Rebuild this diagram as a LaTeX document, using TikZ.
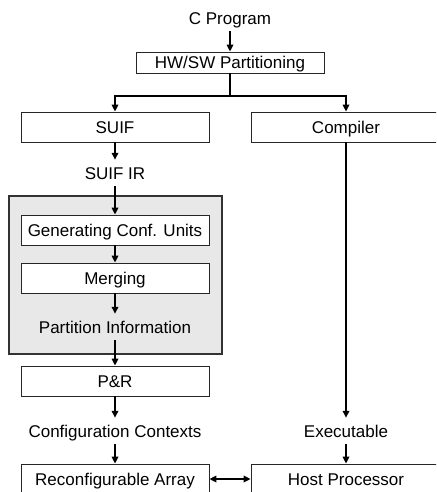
\documentclass[tikz,border=0pt]{standalone}
\usepackage{fontspec}
\setmainfont{Liberation Sans}
\usetikzlibrary{arrows.meta}
\tikzset{
  box/.style={draw=black!85, line width=0.8pt, fill=white, minimum width=188pt, minimum height=30pt, inner sep=0pt, text height=12.2pt, text depth=0pt, font=\fontsize{17}{20}\selectfont},
  lbl/.style={inner sep=0pt, minimum height=26pt, text height=12.2pt, text depth=0pt, font=\fontsize{17}{20}\selectfont},
  grp/.style={draw=black!80, line width=1.4pt, fill=black!9, minimum width=213pt, minimum height=158pt, inner sep=0pt},
  arr/.style={line width=1.6pt, -{Triangle[length=7pt,width=6.5pt]}},
  darr/.style={line width=1.6pt, {Triangle[length=7pt,width=6.5pt]}-{Triangle[length=7pt,width=6.5pt]}},
  ln/.style={line width=1.6pt}
}
\begin{document}
\begin{tikzpicture}[x=1pt,y=-1pt]
\useasboundingbox (0,0) rectangle (436,492);
\clip (0,0) rectangle (436,492);
\fill[white] (0,0) rectangle (436,492);
\node[lbl] (cprog) at (230,18) {C Program};
\node[box, minimum height=21pt] (hwsw) at (230,62.5) {HW/SW Partitioning};
\node[box] (suif) at (115,127) {SUIF};
\node[box, minimum width=190pt] (comp) at (346,127) {Compiler};
\node[lbl] (suifir) at (115,173) {SUIF IR};
\node[grp] (group) at (115.5,275) {};
\node[box] (gen) at (115,230) {Generating Conf. Units};
\node[box] (merge) at (115,278) {Merging};
\node[lbl] (pinfo) at (115,327) {Partition Information};
\node[box] (pr) at (115,381) {P\&R};
\node[lbl] (conf) at (115,431) {Configuration Contexts};
\node[lbl] (exe) at (346,431) {Executable};
\node[box] (reconf) at (115,479) {Reconfigurable Array};
\node[box, minimum width=190pt] (host) at (346,479) {Host Processor};
\coordinate (br) at (230,96);
\draw[arr] (cprog.south) -- (hwsw.north);
\draw[ln] (hwsw.south) -- (br);
\draw[arr] (br) -| (suif.north);
\draw[arr] (br) -| (comp.north);
\draw[arr] (suif.south) -- (suifir.north);
\draw[arr] (suifir.south) -- (gen.north);
\draw[arr] (gen.south) -- (merge.north);
\draw[arr] (merge.south) -- (pinfo.north);
\draw[arr] (pinfo.south) -- (pr.north);
\draw[arr] (pr.south) -- (conf.north);
\draw[arr] (comp.south) -- (exe.north);
\draw[arr] (conf.south) -- (reconf.north);
\draw[arr] (exe.south) -- (host.north);
\draw[darr] (reconf.east) -- (host.west);
\end{tikzpicture}
\end{document}
